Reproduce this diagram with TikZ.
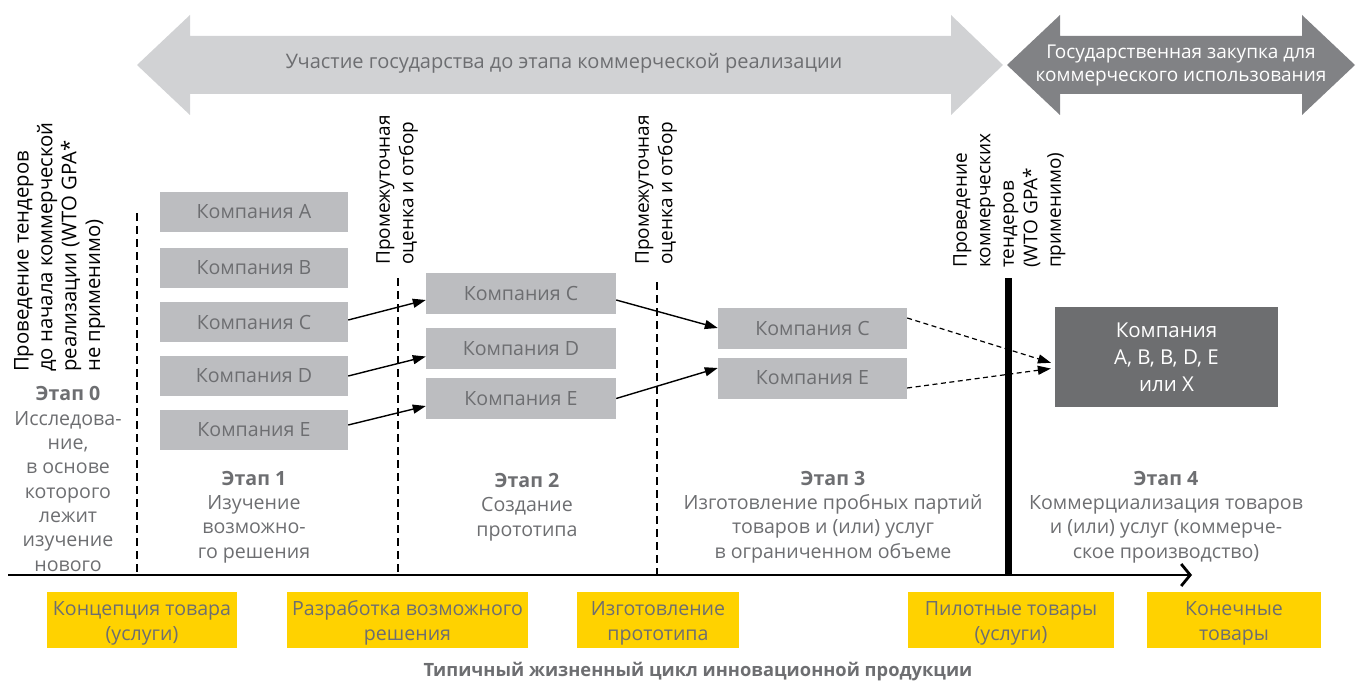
\documentclass[tikz,border=0pt]{standalone}
\usepackage{fontspec}
\setmainfont{Open Sans}
\usetikzlibrary{arrows.meta}
\definecolor{lgray}{HTML}{D1D2D4}
\definecolor{dgray}{HTML}{818285}
\definecolor{boxg}{HTML}{BCBDC0}
\definecolor{txtg}{HTML}{6D6E71}
\definecolor{fing}{HTML}{6D6E70}
\definecolor{ylw}{HTML}{FFD200}
\begin{document}
\begin{tikzpicture}[x=1pt,y=-1pt,
  cbox/.style={fill=boxg, text=txtg, inner sep=0pt, minimum width=189pt, minimum height=41pt, font=\fontsize{19.6}{22}\selectfont},
  finbox/.style={fill=fing, text=white, inner sep=0pt, align=center, minimum width=223pt, minimum height=100pt, font=\fontsize{20.5}{27}\selectfont},
  ybox/.style={fill=ylw, text=txtg, inner sep=0pt, align=center, minimum height=56pt, font=\fontsize{19.6}{25}\selectfont},
  ytxt/.style={text=txtg, inner sep=0pt, align=center, font=\fontsize{19.6}{25}\selectfont},
  stagetxt/.style={text=txtg, inner sep=0pt, align=center, font=\fontsize{19.6}{24.3}\selectfont},
  rottxt/.style={text=black, inner sep=0pt, align=left, rotate=90, anchor=north west, font=\fontsize{19}{23.5}\selectfont},
  solarrow/.style={draw=black, line width=1.4pt, -{Triangle[length=13pt,width=9pt]}},
  dasharrow/.style={draw=black, line width=1.2pt, dash pattern=on 5pt off 3.5pt, -{Triangle[length=13pt,width=9pt]}},
  vdash/.style={draw=black, line width=2.6pt, dash pattern=on 8pt off 5pt},
]
\useasboundingbox (0,0) rectangle (1361,682);
% big arrows
\fill[lgray] (137,65) -- (190,15) -- (190,36) -- (951,36) -- (951,15) -- (1003,65) -- (951,115) -- (951,94) -- (190,94) -- (190,115) -- cycle;
\fill[dgray] (1007,65) -- (1060,15) -- (1060,36) -- (1302,36) -- (1302,15) -- (1355,65) -- (1302,115) -- (1302,94) -- (1060,94) -- (1060,115) -- cycle;
\node[text=txtg, font=\fontsize{20}{23}\selectfont] (topl) at (564,63) {Участие государства до этапа коммерческой реализации};
\node[text=white, align=center, font=\fontsize{19}{23}\selectfont] (topr) at (1181,66) {Государственная закупка для\\коммерческого использования};

% rotated labels
\node[rottxt, font=\fontsize{20.3}{23.8}\selectfont] (r0) at (14,372) {Проведение тендеров\\до начала коммерческой\\реализации (WTO GPA*\\не применимо)};
\node[rottxt] (r1) at (376,265) {Промежуточная\\оценка и отбор};
\node[rottxt] (r2) at (635,265) {Промежуточная\\оценка и отбор};
\node[rottxt] (r3) at (953,268) {Проведение\\коммерческих\\тендеров\\(WTO GPA*\\применимо)};

% vertical lines and axis
\coordinate (d0t) at (137,213); \coordinate (d0b) at (137,575);
\coordinate (d1t) at (398,278); \coordinate (d1b) at (398,575);
\coordinate (d2t) at (657,282); \coordinate (d2b) at (657,575);
\coordinate (bart) at (1008,278); \coordinate (barb) at (1008,576);
\coordinate (ax0) at (8,575); \coordinate (ax1) at (1192,575);
\draw[vdash] (d0t) -- (d0b);
\draw[vdash] (d1t) -- (d1b);
\draw[vdash] (d2t) -- (d2b);
\draw[line width=7pt] (bart) -- (barb);
\draw[line width=2.8pt, -{Straight Barb[length=9pt,width=22pt,line width=2.8pt]}] (ax0) -- (ax1);

% company boxes
\node[cbox, minimum width=188pt, minimum height=40pt] (s1a) at (254,212) {Компания A};
\node[cbox, minimum width=188pt, minimum height=40pt] (s1b) at (254,268) {Компания B};
\node[cbox, minimum width=188pt, minimum height=40pt] (s1c) at (254,322) {Компания C};
\node[cbox, minimum width=188pt, minimum height=40pt] (s1d) at (254,376) {Компания D};
\node[cbox, minimum width=188pt, minimum height=40pt] (s1e) at (254,430) {Компания E};
\node[cbox, minimum width=190pt] (s2c) at (521,293) {Компания C};
\node[cbox, minimum width=190pt] (s2d) at (521,348.5) {Компания D};
\node[cbox, minimum width=190pt] (s2e) at (521,398.5) {Компания E};
\node[cbox] (s3c) at (812.5,328) {Компания C};
\node[cbox] (s3e) at (812.5,378) {Компания E};
\node[finbox] (fin) at (1166.5,357) {Компания\\A, B, B, D, E\\или X};

% arrows
\draw[solarrow] ([yshift=2pt]s1c.east) -- ([yshift=-7pt]s2c.west);
\draw[solarrow] ([yshift=0pt]s1d.east) -- ([yshift=-8pt]s2d.west);
\draw[solarrow] ([yshift=5pt]s1e.east) -- ([yshift=-7.5pt]s2e.west);
\draw[solarrow] ([yshift=-7pt]s2c.east) -- ([yshift=0pt]s3c.west);
\draw[solarrow] ([yshift=0pt]s2e.east) -- ([yshift=10pt]s3e.west);
\draw[dasharrow, shorten >=4pt] ([yshift=10pt]s3c.east) -- ([yshift=-7pt]fin.west);
\draw[dasharrow, shorten >=4pt] ([yshift=-10pt]s3e.east) -- ([yshift=-11pt]fin.west);

% stage texts
\node[stagetxt] (st0) at (68,479) {{\bfseries Этап 0}\\Исследова-\\ние,\\в основе\\которого\\лежит\\изучение\\нового};
\node[stagetxt] (st1) at (254,517) {{\bfseries Этап 1}\\Изучение\\возможно-\\го решения};
\node[stagetxt] (st2) at (527,507) {{\bfseries Этап 2}\\Создание\\прототипа};
\node[stagetxt] (st3) at (833,517) {{\bfseries Этап 3}\\Изготовление пробных партий\\товаров и (или) услуг\\в ограниченном объеме};
\node[stagetxt] (st4) at (1166,517) {{\bfseries Этап 4}\\Коммерциализация товаров\\и (или) услуг (коммерче-\\ское производство)};

% yellow boxes
\node[ybox, minimum width=190pt] (y1) at (142,620) {};
\node[ybox, minimum width=241pt] (y2) at (407.5,620) {};
\node[ybox, minimum width=162pt] (y3) at (658,620) {};
\node[ybox, minimum width=206pt] (y4) at (1011,620) {};
\node[ybox, minimum width=174pt] (y5) at (1234,620) {};
\node[ytxt] (t1) at ([yshift=-3pt]y1.center) {Концепция товара\\(услуги)};
\node[ytxt] (t2) at ([yshift=-3pt]y2.center) {Разработка возможного\\решения};
\node[ytxt] (t3) at ([yshift=-3pt]y3.center) {Изготовление\\прототипа};
\node[ytxt] (t4) at ([yshift=-3pt]y4.center) {Пилотные товары\\(услуги)};
\node[ytxt] (t5) at ([yshift=-3pt]y5.center) {Конечные\\товары};

\node[text=txtg, font=\bfseries\fontsize{18.3}{20}\selectfont] (cap) at (698,672) {Типичный жизненный цикл инновационной продукции};
\end{tikzpicture}
\end{document}
